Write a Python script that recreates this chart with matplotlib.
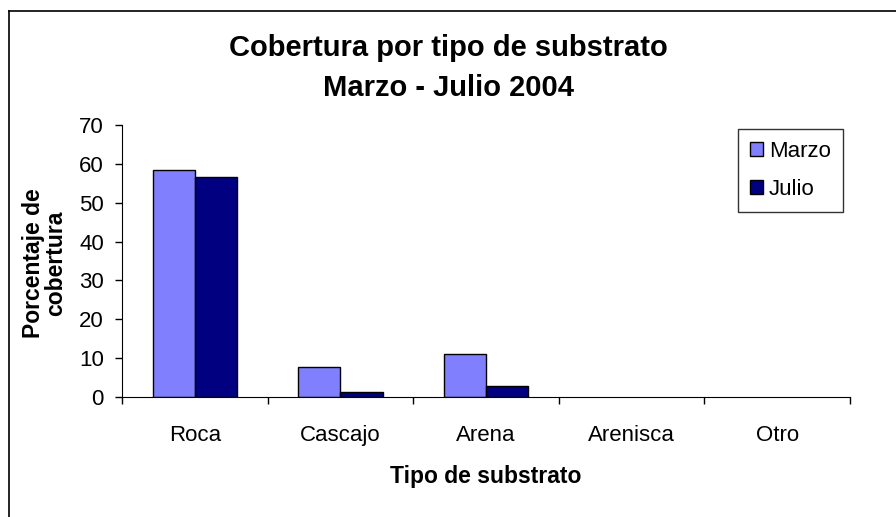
import numpy as np
import matplotlib
matplotlib.use("Agg")
import matplotlib.pyplot as plt
from matplotlib.lines import Line2D

plt.rcParams['font.family'] = ['Liberation Sans', 'DejaVu Sans']

# datos
categorias = ['Roca', 'Cascajo', 'Arena', 'Arenisca', 'Otro']
marzo = [58.4, 7.7, 11.0, 0, 0]
julio = [56.5, 1.4, 2.9, 0, 0]
yticks = [0, 10, 20, 30, 40, 50, 60, 70]

W, H = 896, 517
fig = plt.figure(figsize=(W / 100, H / 100), dpi=100)

# marco exterior (solo se ven arriba e izquierda)
fig.add_artist(Line2D([9 / W, 9 / W], [0, 1 - 11 / H], color='black', lw=1.2))
fig.add_artist(Line2D([9 / W, 1], [1 - 11 / H, 1 - 11 / H], color='black', lw=1.2))

ax = fig.add_axes([122 / W, (H - 397) / H, (850 - 122) / W, (397 - 125) / H])

x = np.arange(len(categorias))
w = 0.29
# las barras en cero no se dibujan con borde
lw_m = [1 if v > 0 else 0 for v in marzo]
lw_j = [1 if v > 0 else 0 for v in julio]
ax.bar(x - w / 2, marzo, w, color='#8080FF', edgecolor='black', lw=lw_m, label='Marzo')
ax.bar(x + w / 2, julio, w, color='#000080', edgecolor='black', lw=lw_j, label='Julio')

ax.set_xlim(-0.5, len(categorias) - 0.5)
ax.set_ylim(0, 70)
ax.set_yticks(yticks)
ax.tick_params(axis='y', labelsize=16, length=5, direction='out', width=1, pad=8)

# marcas entre categorias, etiquetas en el centro
ax.set_xticks(np.arange(len(categorias) + 1) - 0.5)
ax.set_xticklabels([])
ax.tick_params(axis='x', which='major', length=5, direction='out', width=1)
ax.set_xticks(x, minor=True)
ax.set_xticklabels(categorias, minor=True)
ax.tick_params(axis='x', which='minor', length=0, labelsize=16, pad=20)

ax.spines['top'].set_visible(False)
ax.spines['right'].set_visible(False)

fig.text(486 / W, 1 - 476 / H, 'Tipo de substrato', ha='center', va='center',
         fontsize=16.5, fontweight='bold')
fig.text(45 / W, 1 - 263 / H, 'Porcentaje de\ncobertura', ha='center', va='center',
         rotation=90, fontsize=16.5, fontweight='bold', linespacing=0.95)

fig.text(0.5, 1 - 48 / H, 'Cobertura por tipo de substrato',
         ha='center', va='center', fontsize=21, fontweight='bold')
fig.text(0.5, 1 - 88 / H, 'Marzo - Julio 2004',
         ha='center', va='center', fontsize=21, fontweight='bold')

leg = ax.legend(loc='upper right', bbox_to_anchor=(843 / W, 1 - 129 / H),
                bbox_transform=fig.transFigure, fontsize=16, frameon=True,
                fancybox=False, edgecolor='black', handlelength=0.6,
                handleheight=0.6, handletextpad=0.25, labelspacing=0.75,
                borderpad=0.55, borderaxespad=0)
leg.get_frame().set_linewidth(1)

fig.savefig('out.png', dpi=100)
